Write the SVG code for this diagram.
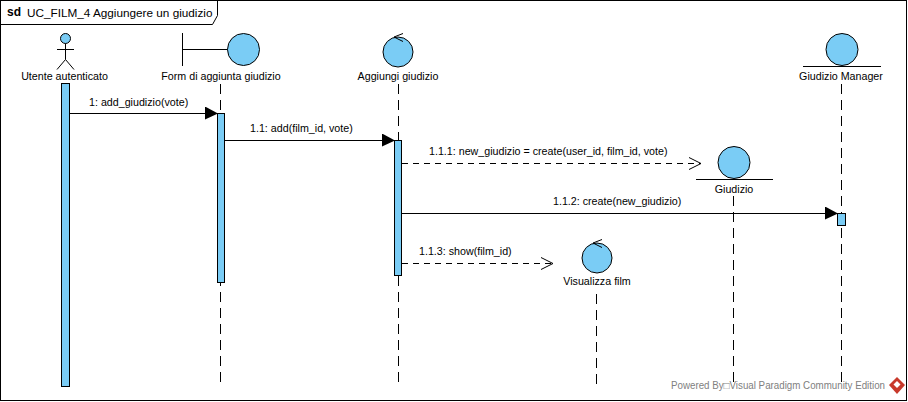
<svg xmlns="http://www.w3.org/2000/svg" width="908" height="402" viewBox="0 0 908 402">
<style>
text{font-family:"Liberation Sans",Arial,sans-serif;font-size:10.7px;fill:#000}
.c{text-anchor:middle}
.n{fill:#7accf5;stroke:#000;stroke-width:1}
.l{fill:none;stroke:#000;stroke-width:1}
.ll{fill:none;stroke:#000;stroke-width:1;stroke-dasharray:10 6}
.d{fill:none;stroke:#000;stroke-width:1;stroke-dasharray:6 5}
</style>
<defs>
<marker id="fill" markerUnits="userSpaceOnUse" markerWidth="14" markerHeight="14" refX="13" refY="7" orient="auto"><path d="M0 0L13 7L0 13Z" fill="#000"/></marker>
<marker id="open" markerUnits="userSpaceOnUse" markerWidth="14" markerHeight="14" refX="13" refY="7" orient="auto"><path d="M1 1L13 7L1 13" fill="none" stroke="#000"/></marker>
</defs>
<rect width="908" height="402" fill="#fff"/>
<g id="frame">
<rect x="0.5" y="0.5" width="906" height="400" fill="none" stroke="#000"/>
<path class="l" d="M0.500 24.500H212.500L217.500 15.500V0.500"/>
<text x="7" y="16" style="font-size:12px;font-weight:bold">sd</text>
<text x="27" y="16.500" style="font-size:11.75px">UC_FILM_4 Aggiungere un giudizio</text>
</g>
<g id="lifelines">
<path class="ll" d="M220.500 84V387"/>
<path class="ll" d="M398.500 84V387"/>
<path class="ll" d="M733.500 196V387"/>
<path class="ll" d="M841.500 84V387"/>
<path class="ll" d="M596.500 294V387"/>
</g>
<g id="connectors">
<path class="l" d="M69 113.500H218" marker-end="url(#fill)"/>
<path class="l" d="M225 140.500H395" marker-end="url(#fill)"/>
<path class="d" d="M402 163.500H701" marker-end="url(#open)"/>
<path class="l" d="M402 213.500H838" marker-end="url(#fill)"/>
<path class="d" d="M402 263.500H553" marker-end="url(#open)"/>
<text x="89" y="106">1: add_giudizio(vote)</text>
<text x="250" y="132">1.1: add(film_id, vote)</text>
<text x="429" y="154.500">1.1.1: new_giudizio = create(user_id, film_id, vote)</text>
<text x="553" y="205">1.1.2: create(new_giudizio)</text>
<text x="419" y="255">1.1.3: show(film_id)</text>
</g>
<g id="actor-utente">
<circle class="n" cx="65.500" cy="38.500" r="5"/>
<path class="l" d="M65.500 43.500V59.500M57 49.500H74M57 69.500L65.500 59.500L74 69.500"/>
<text class="c" x="64.500" y="80">Utente autenticato</text>
<rect class="n" x="61.500" y="83.500" width="8" height="303"/>
</g>
<g id="form-aggiunta">
<path class="l" d="M182.500 33V66M182.500 49.500H228"/>
<circle class="n" cx="243.500" cy="49.500" r="16"/>
<text class="c" x="221" y="80">Form di aggiunta giudizio</text>
<rect class="n" x="217.500" y="113.500" width="7" height="169"/>
</g>
<g id="aggiungi-giudizio">
<circle class="n" cx="398" cy="52" r="15"/>
<path class="l" d="M403 33.500L394 37L403 41.500"/>
<text class="c" x="398" y="80">Aggiungi giudizio</text>
<rect class="n" x="394.500" y="140.500" width="7" height="135"/>
</g>
<g id="giudizio">
<circle class="n" cx="734" cy="162.500" r="16"/>
<path class="l" d="M696 179.500H773"/>
<text class="c" x="734" y="193">Giudizio</text>
</g>
<g id="giudizio-manager">
<circle class="n" cx="842" cy="49.500" r="16"/>
<path class="l" d="M803 66.500H881"/>
<text class="c" x="841" y="80">Giudizio Manager</text>
<rect class="n" x="837.500" y="213.500" width="8" height="12"/>
</g>
<g id="visualizza-film">
<circle class="n" cx="597" cy="258" r="15"/>
<path class="l" d="M602 239.500L593 243L602 247.500"/>
<text class="c" x="597" y="285">Visualizza film</text>
</g>
<g id="watermark">
<text x="671" y="389" textLength="214" lengthAdjust="spacingAndGlyphs" style="fill:#808080;font-size:10.3px">Powered By□Visual Paradigm Community Edition</text>
<path d="M897 377L905 385L897 394L889 385Z" fill="#c8392b"/>
<path d="M897 381L900.500 384.500L897 388L893.500 384.500Z" fill="#fff"/>
</g>
</svg>
